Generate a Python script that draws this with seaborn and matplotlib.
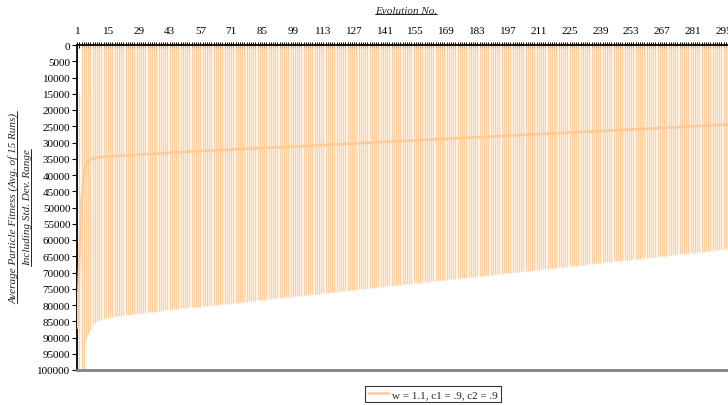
import numpy as np
import pandas as pd
import matplotlib
matplotlib.use("Agg")
import matplotlib.pyplot as plt
from matplotlib.lines import Line2D
import seaborn as sns

# ---------------- data ----------------
evolution = list(range(1, 301))

mean_fitness = [
    87000, 65000, 47000, 40000, 36500, 35600, 35200, 35000, 34800, 34600,
    34500, 34450, 34400, 34350, 34300, 34250, 34200, 34160, 34120, 34080,
    34040, 34000, 33960, 33920, 33880, 33840, 33800, 33760, 33720, 33680,
    33640, 33600, 33560, 33520, 33480, 33450, 33410, 33370, 33330, 33290,
    33250, 33210, 33170, 33130, 33090, 33050, 33010, 32970, 32930, 32890,
    32850, 32810, 32780, 32750, 32720, 32690, 32660, 32630, 32600, 32560,
    32530, 32490, 32460, 32430, 32390, 32360, 32320, 32290, 32260, 32220,
    32190, 32150, 32120, 32090, 32050, 32020, 31980, 31950, 31920, 31880,
    31850, 31810, 31780, 31750, 31710, 31680, 31640, 31610, 31580, 31540,
    31510, 31470, 31440, 31410, 31370, 31340, 31300, 31270, 31240, 31200,
    31170, 31130, 31100, 31070, 31030, 31000, 30960, 30930, 30900, 30860,
    30830, 30790, 30760, 30730, 30690, 30660, 30620, 30590, 30560, 30520,
    30490, 30450, 30420, 30390, 30350, 30320, 30280, 30250, 30220, 30180,
    30150, 30110, 30080, 30050, 30010, 29980, 29940, 29910, 29880, 29840,
    29810, 29770, 29740, 29710, 29670, 29640, 29600, 29570, 29540, 29500,
    29470, 29430, 29400, 29370, 29330, 29300, 29260, 29230, 29200, 29160,
    29130, 29090, 29060, 29030, 28990, 28960, 28920, 28890, 28860, 28820,
    28790, 28750, 28720, 28690, 28650, 28620, 28580, 28550, 28520, 28480,
    28450, 28410, 28380, 28350, 28310, 28280, 28240, 28210, 28180, 28140,
    28110, 28070, 28040, 28010, 27970, 27940, 27900, 27870, 27840, 27800,
    27770, 27730, 27700, 27670, 27630, 27600, 27560, 27530, 27500, 27460,
    27430, 27390, 27360, 27330, 27290, 27260, 27220, 27190, 27160, 27120,
    27090, 27050, 27020, 26990, 26950, 26920, 26880, 26850, 26820, 26780,
    26750, 26710, 26680, 26650, 26610, 26580, 26540, 26510, 26480, 26440,
    26410, 26370, 26340, 26310, 26270, 26240, 26200, 26170, 26140, 26100,
    26070, 26030, 26000, 25970, 25930, 25900, 25860, 25830, 25800, 25760,
    25730, 25690, 25660, 25630, 25590, 25560, 25520, 25490, 25460, 25420,
    25390, 25350, 25320, 25290, 25250, 25220, 25180, 25150, 25120, 25080,
    25050, 25010, 24980, 24950, 24910, 24880, 24840, 24810, 24780, 24740,
    24710, 24670, 24640, 24610, 24570, 24540, 24500, 24470, 24440, 24400,
]

std_dev = [
    33000, 50000, 61000, 62000, 54000, 53400, 52400, 51300, 50700, 50400,
    50200, 50050, 49900, 49780, 49660, 49550, 49480, 49420, 49360, 49300,
    49250, 49200, 49150, 49100, 49060, 49010, 48970, 48920, 48880, 48840,
    48790, 48750, 48710, 48660, 48620, 48580, 48530, 48490, 48450, 48400,
    48360, 48320, 48280, 48240, 48200, 48160, 48120, 48090, 48050, 48010,
    47980, 47950, 47920, 47900, 47880, 47860, 47840, 47800, 47760, 47720,
    47680, 47640, 47600, 47560, 47520, 47480, 47440, 47400, 47360, 47320,
    47280, 47240, 47200, 47160, 47120, 47080, 47040, 47000, 46960, 46920,
    46880, 46840, 46800, 46760, 46720, 46680, 46640, 46600, 46560, 46520,
    46480, 46440, 46400, 46360, 46320, 46280, 46240, 46200, 46160, 46120,
    46080, 46040, 46000, 45960, 45920, 45880, 45840, 45800, 45760, 45720,
    45680, 45640, 45600, 45560, 45520, 45480, 45440, 45400, 45360, 45320,
    45280, 45240, 45200, 45160, 45120, 45080, 45040, 45000, 44960, 44920,
    44880, 44840, 44800, 44760, 44720, 44680, 44640, 44600, 44560, 44520,
    44480, 44440, 44400, 44360, 44320, 44280, 44240, 44200, 44160, 44120,
    44080, 44040, 44000, 43960, 43920, 43880, 43840, 43800, 43760, 43720,
    43680, 43640, 43600, 43560, 43520, 43480, 43440, 43400, 43360, 43320,
    43280, 43240, 43200, 43160, 43120, 43080, 43040, 43000, 42960, 42920,
    42880, 42840, 42800, 42760, 42720, 42680, 42640, 42600, 42560, 42520,
    42480, 42440, 42400, 42360, 42320, 42280, 42240, 42200, 42160, 42120,
    42080, 42040, 42000, 41960, 41920, 41880, 41840, 41800, 41760, 41720,
    41680, 41640, 41600, 41560, 41520, 41480, 41440, 41400, 41360, 41320,
    41280, 41240, 41200, 41160, 41120, 41080, 41040, 41000, 40960, 40920,
    40880, 40840, 40800, 40760, 40720, 40680, 40640, 40600, 40560, 40520,
    40480, 40440, 40400, 40360, 40320, 40280, 40240, 40200, 40160, 40120,
    40080, 40040, 40000, 39960, 39920, 39880, 39840, 39800, 39760, 39720,
    39680, 39640, 39600, 39560, 39520, 39480, 39440, 39400, 39360, 39320,
    39280, 39240, 39200, 39160, 39120, 39080, 39040, 39000, 38960, 38920,
    38880, 38840, 38800, 38760, 38720, 38680, 38640, 38600, 38560, 38520,
    38480, 38440, 38400, 38360, 38320, 38280, 38240, 38200, 38160, 38120,
]

series_label = "w = 1.1, c1 = .9, c2 = .9"
x_title = "Evolution No."
y_title_1 = "Average Particle Fitness (Avg. of 15 Runs)"
y_title_2 = "Including Std. Dev. Range"
x_tick_values = list(range(1, 301, 14))
y_tick_values = list(range(0, 100001, 5000))

# ---------------- style ----------------
sns.set_theme(style="white")
plt.rcParams["font.family"] = ["Liberation Serif", "DejaVu Serif"]
plt.rcParams["font.size"] = 8

ORANGE = "#FFCC99"
BAR_ORANGE = "#FFC88F"

W, H = 728, 406
fig = plt.figure(figsize=(W / 100, H / 100), dpi=100)
ax_left, ax_top, ax_bottom = 77.3, 46, 371
ax_right = 734.5
ax = fig.add_axes([ax_left / W, (H - ax_bottom) / H,
                   (ax_right - ax_left) / W, (ax_bottom - ax_top) / H])

df = pd.DataFrame({"evolution": evolution, "mean": mean_fitness, "sd": std_dev})
df["low"] = df["mean"] - df["sd"]
df["high"] = df["mean"] + df["sd"]

# std-dev range bars
ax.vlines(df["evolution"], df["low"], df["high"], colors=BAR_ORANGE,
          linewidth=1.0, alpha=0.85, zorder=2)
# mean line
sns.lineplot(data=df, x="evolution", y="mean", color=ORANGE, linewidth=1.9,
             ax=ax, zorder=3, label=series_label)

ax.set_xlim(1, 300)
ax.set_ylim(100000, 0)

# x axis on top
ax.xaxis.tick_top()
ax.set_xticks(x_tick_values)
ax.set_xticklabels([str(v) for v in x_tick_values])
ax.set_xticks(evolution, minor=True)
ax.tick_params(axis="x", which="both", top=True, bottom=False,
               direction="inout", length=5, width=0.7, color="black",
               labelsize=8, pad=4.5, labelcolor="black")
ax.set_xlabel("")

ax.set_yticks(y_tick_values)
ax.set_yticklabels([str(v) for v in y_tick_values])
ax.tick_params(axis="y", which="major", left=True, direction="out",
               length=3.5, width=0.8, color="black", labelsize=8, pad=1.5,
               labelcolor="black")
ax.set_ylabel("")

for s in ["left", "top"]:
    ax.spines[s].set_color("black")
    ax.spines[s].set_linewidth(1.3)
ax.spines["bottom"].set_color("#808080")
ax.spines["bottom"].set_linewidth(2.0)
ax.spines["right"].set_visible(False)

# legend
handles, labels = ax.get_legend_handles_labels()
if ax.get_legend() is not None:
    ax.get_legend().remove()
leg = fig.legend(handles, labels, loc="center",
                 bbox_to_anchor=(433 / W, 1 - 395 / H), frameon=True,
                 fancybox=False, shadow=False, fontsize=8,
                 handlelength=1.9, handletextpad=0.3, borderpad=0.3,
                 borderaxespad=0)
leg.get_frame().set_edgecolor("black")
leg.get_frame().set_linewidth(0.8)
leg.get_frame().set_facecolor("white")
for ln in leg.get_lines():
    ln.set_linewidth(1.9)

# titles (italic, underlined)
t_x = fig.text(406 / W, 1 - 12 / H, x_title, ha="center", va="center",
               fontsize=8, style="italic")
t_y1 = fig.text(13.5 / W, 1 - 208 / H, y_title_1, ha="center", va="center",
                rotation=90, fontsize=8, style="italic")
t_y2 = fig.text(27.5 / W, 1 - 208 / H, y_title_2, ha="center", va="center",
                rotation=90, fontsize=8, style="italic")

fig.canvas.draw()
renderer = fig.canvas.get_renderer()
inv = fig.transFigure.inverted()

bb = t_x.get_window_extent(renderer)
(x0, y0), (x1, y1) = inv.transform([(bb.x0, bb.y0 + 1.5), (bb.x1, bb.y0 + 1.5)])
fig.add_artist(Line2D([x0, x1], [y0, y1], transform=fig.transFigure,
                      color="black", linewidth=0.6))
for t in (t_y1, t_y2):
    bb = t.get_window_extent(renderer)
    (x0, y0), (x1, y1) = inv.transform([(bb.x1 - 1.5, bb.y0), (bb.x1 - 1.5, bb.y1)])
    fig.add_artist(Line2D([x0, x1], [y0, y1], transform=fig.transFigure,
                          color="black", linewidth=0.6))

fig.savefig("out.png", dpi=100)
